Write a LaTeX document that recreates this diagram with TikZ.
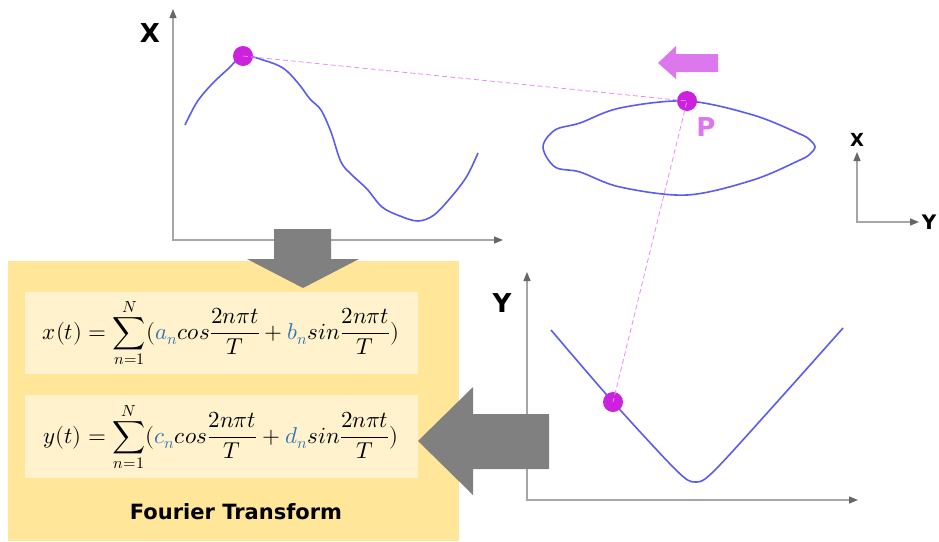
\documentclass[tikz,border=0pt]{standalone}
\usepackage{fontspec}
\newfontfamily\heavyfont{DejaVu Sans}
\usepackage{unicode-math}
\setmathfont{Latin Modern Math}
\usetikzlibrary{arrows.meta}

\definecolor{curveblue}{HTML}{5B5BF2}
\definecolor{dotpink}{HTML}{CC22DD}
\definecolor{dashpink}{HTML}{E68CF2}
\definecolor{arrowpink}{HTML}{DD77EE}
\definecolor{panelyellow}{HTML}{FFE699}
\definecolor{eqyellow}{HTML}{FFF2CC}
\definecolor{coefblue}{HTML}{2E75B6}
\definecolor{axisgray}{HTML}{A6A6A6}
\definecolor{blockgray}{HTML}{808080}

\tikzset{
  axis/.style={axisgray, line width=1.2pt, -{Triangle[length=9pt,width=7pt,color=black!60]}},
  signal/.style={curveblue, line width=1.6pt, smooth, tension=0.55},
  dot/.style={circle, fill=dotpink, minimum size=20pt, inner sep=0pt},
  guide/.style={dashpink, line width=0.8pt, dash pattern=on 5pt off 3pt},
  axlabel/.style={font=\heavyfont\bfseries\fontsize{26}{30}\selectfont},
  smalllabel/.style={font=\heavyfont\bfseries\fontsize{20}{24}\selectfont},
  eqbox/.style={fill=eqyellow},
  eqn/.style={font=\fontsize{23}{27}\selectfont},
  block/.style={fill=blockgray}
}

\begin{document}
\begin{tikzpicture}[x=1pt,y=-1pt]
  \useasboundingbox (0,0) rectangle (939,541);

  % Fourier panel
  \fill[panelyellow] (8,261) rectangle (459,541);
  \fill[eqbox] (25,292) rectangle (418,374);
  \fill[eqbox] (25,395) rectangle (418,478);
  \node[eqn] (xeq) at (221,333) {$\displaystyle x(t) = \sum_{n=1}^{N}(\textcolor{coefblue}{a_n}cos\frac{2n\pi t}{T}+\textcolor{coefblue}{b_n}sin\frac{2n\pi t}{T})$};
  \node[eqn] (yeq) at (221,437) {$\displaystyle y(t) = \sum_{n=1}^{N}(\textcolor{coefblue}{c_n}cos\frac{2n\pi t}{T}+\textcolor{coefblue}{d_n}sin\frac{2n\pi t}{T})$};
  \node[font=\heavyfont\bfseries\fontsize{21}{25}\selectfont] (ft) at (236,512) {Fourier Transform};

  % x(t) plot
  \draw[axis] (173,241) -- (173,9);
  \draw[axis] (172,240) -- (503,240);
  \node[axlabel] (xlab) at (150,33) {X};
  \draw[signal] plot coordinates {(185,125) (197,102) (212,84) (228,69) (243,56) (263,60)
    (283,68) (298,83) (310,99) (321,110) (331,132) (341,162) (352,175) (367,189)
    (382,207) (400,216) (418,221) (434,215) (452,196) (467,176) (478,153)};

  % closed path
  \draw[signal] plot[smooth cycle] coordinates {(543,147) (555,130) (580,123) (620,108)
    (687,101) (753,115) (800,134) (810,140) (815,147) (810,154) (800,160) (753,180)
    (687,195) (620,187) (580,172) (555,167)};
  \fill[arrowpink] (718,54) -- (718,72) -- (676,72) -- (676,79) -- (658,63) -- (676,46) -- (676,54) -- cycle;
  \node[axlabel, text=arrowpink] (plab) at (706,127) {P};

  % small axes
  \draw[axis] (857,222) -- (857,152);
  \draw[axis] (856,222) -- (919,222);
  \node[smalllabel, font=\heavyfont\bfseries\fontsize{18}{22}\selectfont] (sx) at (857,140) {X};
  \node[smalllabel] (sy) at (929,222) {Y};

  % y(t) plot
  \draw[axis] (527,501) -- (527,272);
  \draw[axis] (526,500) -- (858,500);
  \node[axlabel] (ylab) at (502,303) {Y};
  \draw[signal, tension=0.5] plot coordinates {(551,330) (613,402) (676,470) (695,482)
    (714,471) (777,402) (843,328)};

  % block arrows
  \fill[blockgray] (274,229) -- (331,229) -- (331,259) -- (359,259) -- (303,288) -- (247,259) -- (274,259) -- cycle;
  \fill[blockgray] (549,414) -- (549,469) -- (473,469) -- (473,495) -- (418,441) -- (473,387) -- (473,414) -- cycle;

  % moving point
  \node[dot] (xdot) at (243,56) {};
  \node[dot] (pdot) at (687,101) {};
  \node[dot] (ydot) at (613,402) {};
  \draw[guide] (xdot.center) -- (pdot.center) -- (ydot.center);
\end{tikzpicture}
\end{document}
